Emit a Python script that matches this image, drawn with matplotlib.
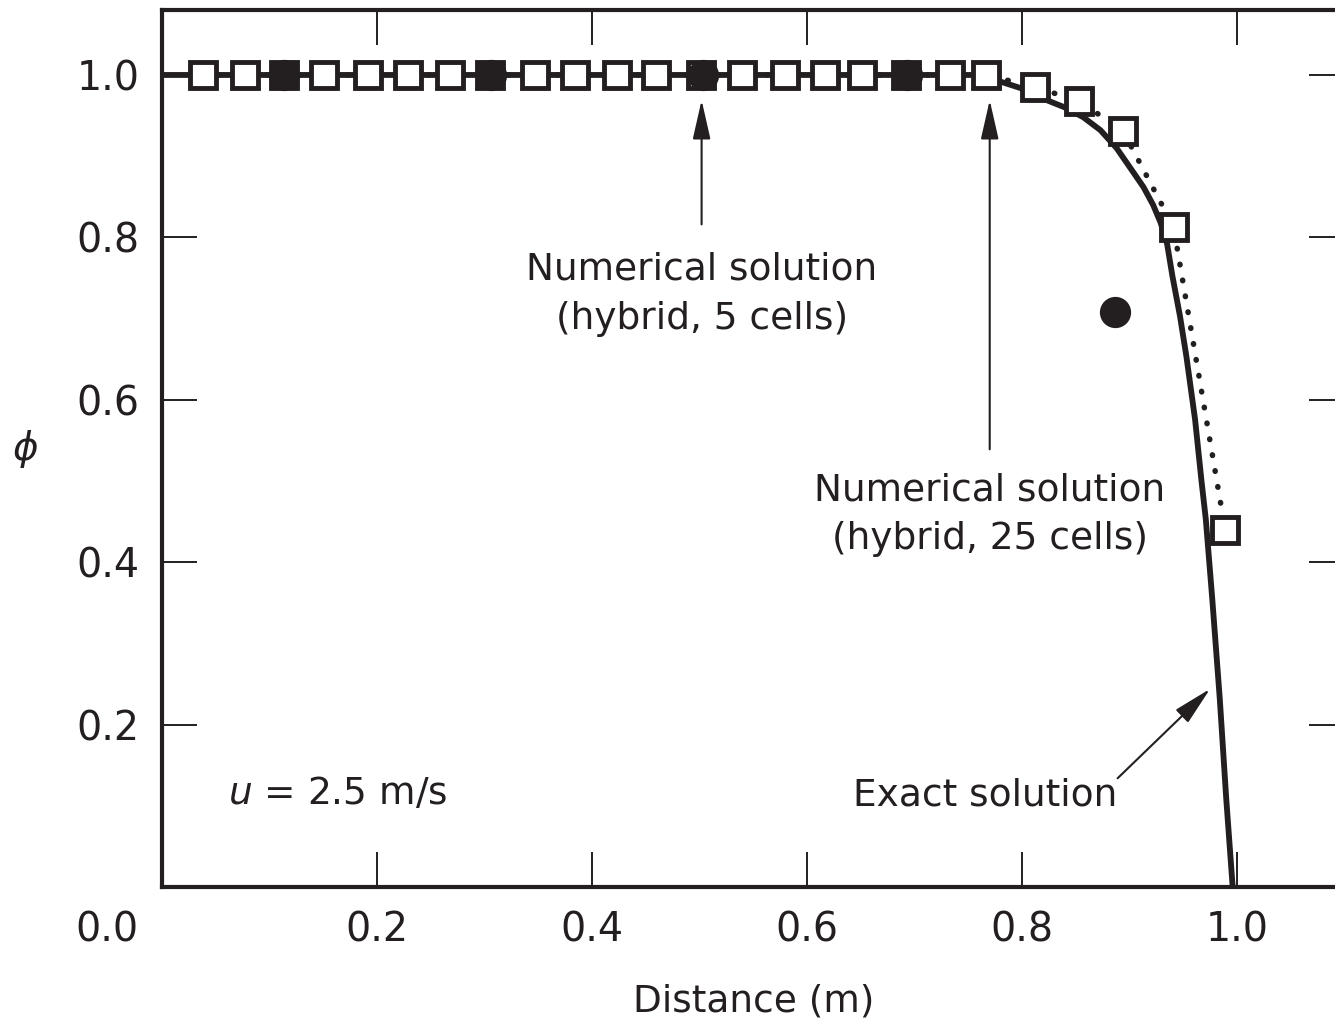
import matplotlib
matplotlib.use("Agg")
import matplotlib.pyplot as plt

# 25-cell hybrid solution (open squares)
x25 = [0.038, 0.077, 0.114, 0.151, 0.192, 0.229, 0.268, 0.305, 0.347, 0.384,
       0.423, 0.460, 0.501, 0.540, 0.580, 0.617, 0.651, 0.692, 0.733, 0.767,
       0.812, 0.853, 0.894, 0.941, 0.989]
y25 = [1.0, 1.0, 1.0, 1.0, 1.0, 1.0, 1.0, 1.0, 1.0, 1.0,
       1.0, 1.0, 1.0, 1.0, 1.0, 1.0, 1.0, 1.0, 1.0, 1.0,
       0.985, 0.968, 0.931, 0.813, 0.440]

# 5-cell hybrid solution (filled circles)
x5 = [0.114, 0.306, 0.503, 0.693, 0.887]
y5 = [1.0, 1.0, 1.0, 1.0, 0.708]

# exact solution
x_exact = [0.0, 0.761, 0.782, 0.803, 0.823, 0.840, 0.857, 0.873, 0.888, 0.900,
           0.913, 0.922, 0.929, 0.935, 0.940, 0.947, 0.953, 0.961, 0.967, 0.971,
           0.977, 0.984, 0.990, 0.996]
y_exact = [1.0, 1.0, 0.991, 0.982, 0.969, 0.960, 0.948, 0.932, 0.910, 0.887,
           0.862, 0.840, 0.818, 0.792, 0.752, 0.703, 0.653, 0.576, 0.500, 0.453,
           0.355, 0.232, 0.109, 0.0]

xticks = [0.2, 0.4, 0.6, 0.8, 1.0]
yticks = [0.2, 0.4, 0.6, 0.8, 1.0]

plt.rcParams["font.family"] = ["DejaVu Sans"]
INK = "#231f20"
FS = 27

fig = plt.figure(figsize=(13.35, 10.21), dpi=100)
ax = fig.add_axes([0.1213, 0.1312, 0.8858, 0.859])

ax.plot(x_exact, y_exact, color=INK, lw=4.2, solid_capstyle="butt",
        solid_joinstyle="round", zorder=2)
ax.plot(x25, y25, color=INK, lw=4.0, linestyle=(0, (0.1, 2.8)),
        dash_capstyle="round", zorder=2)
ax.plot(x25, y25, linestyle="none", marker="s", markersize=19,
        markerfacecolor="white", markeredgecolor=INK, markeredgewidth=3.5, zorder=3)
ax.plot(x5, y5, linestyle="none", marker="o", markersize=22.5,
        markerfacecolor=INK, markeredgecolor=INK, markeredgewidth=0, zorder=4)

ax.set_xlim(0, 1.1)
ax.set_ylim(0, 1.08)
ax.set_xticks(xticks)
ax.set_yticks(yticks)
ax.set_xticklabels([f"{v:.1f}" for v in xticks])
ax.set_yticklabels([f"{v:.1f}" for v in yticks])
ax.tick_params(axis="both", direction="in", length=25, width=1.4, color=INK,
               labelsize=28.5, labelcolor=INK, top=True, right=True)
ax.tick_params(axis="x", pad=17)
ax.tick_params(axis="y", pad=16)
for side in ax.spines.values():
    side.set_linewidth(3.0)
    side.set_color(INK)

ax.annotate("0.0", xy=(0, 0), xycoords="axes fraction", xytext=(-17, -31),
            textcoords="offset points", ha="right", va="center",
            fontsize=28.5, color=INK)

ax.set_xlabel("Distance (m)", fontsize=FS, color=INK, labelpad=24)
ax.set_ylabel(r"$\phi$", fontsize=28, color=INK, rotation=0, va="center",
              ha="center")
ax.yaxis.set_label_coords(-0.116, 0.5)

arrow = dict(arrowstyle="-|>,head_length=1.1,head_width=0.25", color=INK,
             lw=1.5, mutation_scale=22, shrinkA=0, shrinkB=0)

ax.text(0.502, 0.730, "Numerical solution\n(hybrid, 5 cells)", ha="center",
        va="center", fontsize=FS, color=INK, linespacing=1.45)
ax.annotate("", xy=(0.502, 0.969), xytext=(0.502, 0.816), arrowprops=arrow)

ax.text(0.770, 0.459, "Numerical solution\n(hybrid, 25 cells)", ha="center",
        va="center", fontsize=FS, color=INK, linespacing=1.45)
ax.annotate("", xy=(0.770, 0.969), xytext=(0.770, 0.539), arrowprops=arrow)

ax.text(0.766, 0.113, "Exact solution", ha="center", va="center",
        fontsize=FS, color=INK)
ax.annotate("", xy=(0.975, 0.244), xytext=(0.889, 0.134), arrowprops=arrow)

ax.text(0.061, 0.115, r"$u$ = 2.5 m/s", ha="left", va="center",
        fontsize=FS, color=INK)

fig.savefig("out.png", dpi=100)
